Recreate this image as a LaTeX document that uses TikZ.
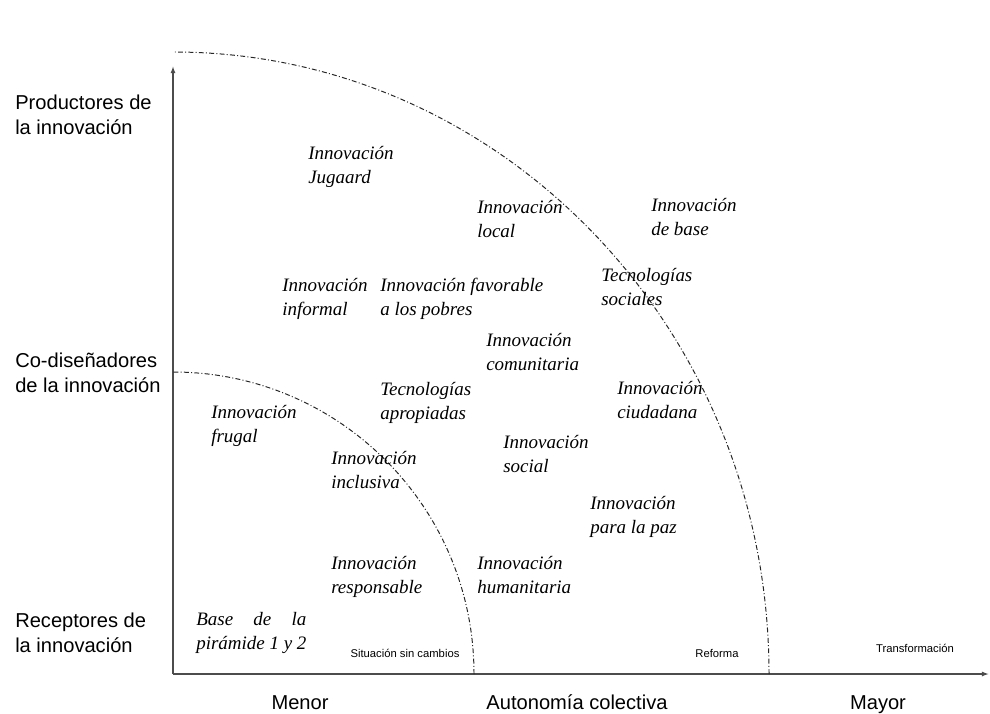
\documentclass[tikz,border=0pt]{standalone}
\usepackage{fontspec}
\usepackage{calc}
\setmainfont{Liberation Serif}
\setsansfont{Liberation Sans}
\usetikzlibrary{arrows.meta}

\begin{document}
\begin{tikzpicture}[x=0.025cm,y=0.025cm,
    inno/.style={anchor=base west,align=left,inner sep=0pt,
      font=\fontsize{13.5}{16.5}\selectfont\itshape},
    actor/.style={anchor=west,align=left,inner sep=0pt,
      font=\fontsize{14.3}{17.5}\selectfont\sffamily},
    axislabel/.style={anchor=base,inner sep=0pt,font=\fontsize{14.3}{17.5}\selectfont\sffamily},
    stage/.style={inner sep=0pt,font=\fontsize{8}{9}\selectfont\sffamily},
    arcline/.style={line width=0.7pt,black!85,
      dash pattern=on 3.5pt off 1.6pt on 0.7pt off 1.6pt}]
  \useasboundingbox (0,0) rectangle (990,713);
  \begin{scope}
    % ejes
    \coordinate (o) at (173,39);
    \coordinate (ytop) at (173,647);
    \coordinate (xend) at (989,39);
    \draw[line width=0.9pt,black!70,-{Latex[length=5pt,width=3.5pt]}] (o) -- (ytop);
    \draw[line width=0.9pt,black!70,-{Latex[length=5pt,width=3.5pt]}] (o) -- (xend);
    % arcos de autonomia
    \coordinate (smallarc) at (474,39);
    \coordinate (bigarc) at (769,39);
    \draw[arcline] (smallarc) arc[start angle=0,end angle=90,x radius=301,y radius=302];
    \draw[arcline] (bigarc) arc[start angle=0,end angle=90,x radius=596,y radius=622];
  \end{scope}
  % actores
  \node[actor] (prod) at (15,598) {Productores de\\la innovación};
  \node[actor] (codis) at (15,340) {Co-diseñadores\\de la innovación};
  \node[actor] (recep) at (15,80) {Receptores de\\la innovación};
  % eje horizontal
  \node[axislabel] (menor) at (300,4) {Menor};
  \node[axislabel] (auton) at (577,4) {Autonomía colectiva};
  \node[axislabel] (mayor) at (878,4) {Mayor};
  \node[stage] (sincambio) at (405,60) {Situación sin cambios};
  \node[stage] (reforma) at (717,60) {Reforma};
  \node[stage] (transf) at (915,65) {Transformación};
  % tipos de innovacion (base = ultima linea)
  \node[inno] (jugaard) at (308,530) {Innovación\\Jugaard};
  \node[inno] (local) at (477,476) {Innovación\\local};
  \node[inno] (base) at (651,478) {Innovación\\de base};
  \node[inno] (tecsoc) at (601,408) {Tecnologías\\sociales};
  \node[inno] (informal) at (282,398) {Innovación\\informal};
  \node[inno] (pobres) at (380,398) {Innovación favorable\\a los pobres};
  \node[inno] (comun) at (486,343) {Innovación\\comunitaria};
  \node[inno] (tecapr) at (380,294) {Tecnologías\\apropiadas};
  \node[inno] (ciudad) at (617,295) {Innovación\\ciudadana};
  \node[inno] (frugal) at (211,271) {Innovación\\frugal};
  \node[inno] (social) at (503,241) {Innovación\\social};
  \node[inno] (inclus) at (331,225) {Innovación\\inclusiva};
  \node[inno] (paz) at (590,180) {Innovación\\para la paz};
  \node[inno] (respon) at (331,120) {Innovación\\responsable};
  \node[inno] (human) at (477,120) {Innovación\\humanitaria};
  \node[inno] (piram) at (196,64)
    {\makebox[\widthof{pirámide 1 y 2}][s]{Base\hfill de\hfill la}\\pirámide 1 y 2};
\end{tikzpicture}
\end{document}
